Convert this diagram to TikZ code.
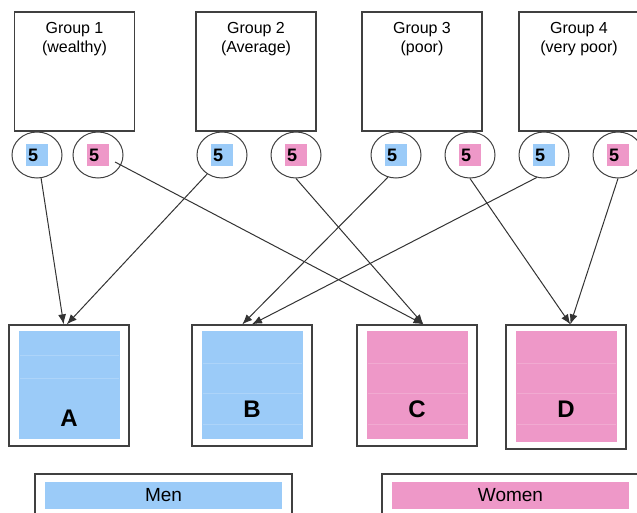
\documentclass[tikz,border=0pt]{standalone}
\usepackage{fontspec}
\setmainfont{Liberation Sans}
\usepackage{tikz}
\usetikzlibrary{calc, shapes.geometric}
\usetikzlibrary{arrows.meta}
\tikzset{>={Latex[width=8pt,length=10pt]}}
\definecolor{men}{RGB}{155,203,248}
\definecolor{women}{RGB}{238,152,200}

\begin{document}
\begin{tikzpicture}[
    x = 1pt, y = -1pt,
    group/.style = {draw=black!75, line width=1.3pt, minimum width=120pt,
        minimum height=119pt, inner sep=0pt},
    glabel/.style = {anchor=north, align=center, inner sep=0pt, yshift=-11pt,
        font=\fontsize{16}{18.5}\selectfont},
    tag/.style = {draw=black!75, line width=1pt, ellipse, minimum width=50pt,
        minimum height=46pt, inner sep=0pt},
    num/.style = {inner sep=2pt, text width=18pt, align=left, minimum height=22pt,
        font=\fontsize{18}{18}\selectfont\bfseries},
    cell/.style = {draw=black!75, line width=1.3pt, minimum width=120pt, inner sep=0pt},
    stripe/.style = {white, opacity=0.18, line width=1pt},
    letter/.style = {font=\fontsize{24}{24}\selectfont\bfseries, inner sep=0pt},
    key/.style = {draw=black!75, line width=1.3pt, minimum width=257pt,
        minimum height=47pt, inner sep=0pt},
    keyfill/.style = {minimum width=237pt, minimum height=27pt, inner sep=0pt,
        font=\fontsize{19}{19}\selectfont},
    link/.style = {->, draw=black!80, line width=1pt}
  ]
  \useasboundingbox (0,0) rectangle (637,513);
  \clip (0,0) rectangle (637,513);

  \foreach \i/\x/\txt in {1/74.5/{Group 1\\(wealthy)}, 2/256/{Group 2\\(Average)},
      3/422/{Group 3\\(poor)}, 4/579/{Group 4\\(very poor)}}
  \node[group, label={[glabel]north:\txt}] (g\i) at (\x,71.5) {};

  \foreach \i/\xm/\xw in {1/37/98, 2/222/296, 3/396/470, 4/544/618} {
    \node[tag] (m\i) at (\xm,155) {};
    \node[num, fill=men] (ms\i) at (m\i) {5};
    \node[tag] (w\i) at (\xw,155) {};
    \node[num, fill=women] (ws\i) at (w\i) {5};
  }

  \foreach \n/\x/\c/\ly/\h/\st in {A/69/men/418.5/121/{355,378},
      B/252/men/409/121/{363,393,424}, C/417/women/409/121/{363,393,424},
      D/566/women/409/124/{363,393,424}} {
    \node[cell, minimum height=\h pt] (\n) at (\x,325+\h/2) {};
    \fill[\c] ($(\n.north west)+(11,7)$) rectangle ($(\n.south east)+(-10,-8)$);
    \foreach \s in \st
      \draw[stripe] (\x-49,\s) -- (\x+50,\s);
    \node[letter] (l\n) at (\x,\ly) {\n};
  }

  \node[key] (km) at (163.5,497.5) {};
  \node[keyfill, fill=men] (men) at (163.5,495.5) {Men};
  \node[key] (kw) at (510.5,497.5) {};
  \node[keyfill, fill=women] (women) at (510.5,495.5) {Women};

  \draw[link] (m1.-80) -- (A.95);
  \draw[link] (m2.-128) -- (A.92);
  \draw[link] ($(w1)+(17,7)$) -- (C.84);
  \draw[link] (w2.south) -- (C.84);
  \draw[link] (m3.-110) -- (B.99);
  \draw[link] (m4.-108) -- (B.90);
  \draw[link] (w3.south) -- (D.86);
  \draw[link] (w4.south) -- (D.86);
\end{tikzpicture}
\end{document}
